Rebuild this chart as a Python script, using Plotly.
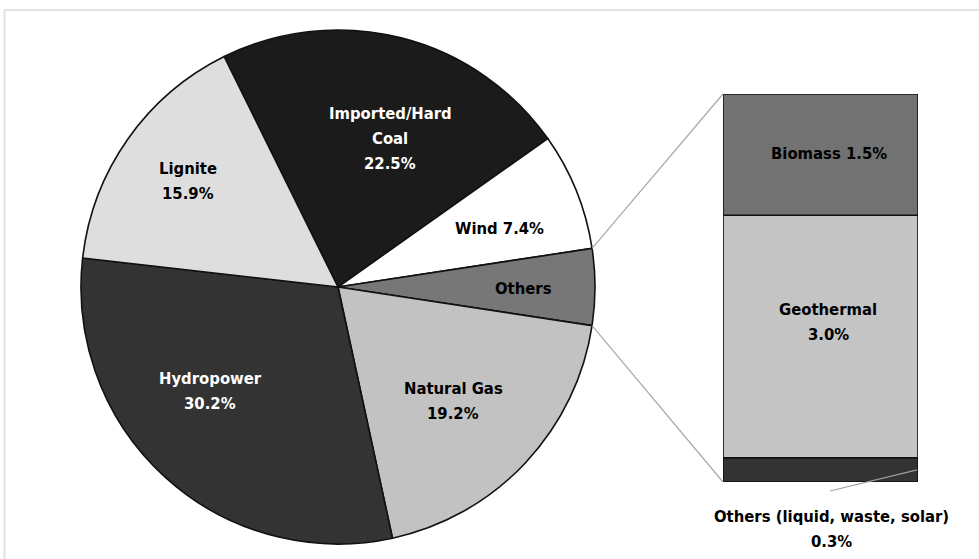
import math
import plotly.graph_objects as go

# ---- data ----
pie_labels = ["Imported/Hard Coal", "Wind", "Others", "Natural Gas", "Hydropower", "Lignite"]
pie_values = [22.5, 7.4, 4.8, 19.2, 30.2, 15.9]
pie_colors = ["#1b1b1b", "#ffffff", "#777777", "#c2c2c2", "#333333", "#dedede"]
pie_text = ["Imported/Hard<br>Coal<br>22.5%", "Wind 7.4%", "Others", "Natural Gas<br>19.2%",
            "Hydropower<br>30.2%", "Lignite<br>15.9%"]
pie_text_colors = ["white", "black", "black", "black", "white", "black"]

bar_labels = ["Others (liquid, waste, solar)", "Geothermal", "Biomass"]
bar_values = [0.3, 3.0, 1.5]
bar_colors = ["#333333", "#c4c4c4", "#727272"]
bar_text = ["Others (liquid, waste, solar)<br>0.3%", "Geothermal<br>3.0%", "Biomass 1.5%"]

# ---- layout geometry (pixels) ----
W, H = 979, 559
CX, CY, R = 338, 287, 257
BX0, BX1 = 723, 918
BY_TOP, BY_BOT = 94, 482
LINE_GAP = 25
FONT = "Liberation Sans Narrow, DejaVu Sans Condensed, Roboto, sans-serif"


def px(x):
    return x / W


def py(y):
    return 1 - y / H


total = sum(pie_values)
others_idx = pie_labels.index("Others")
before = sum(pie_values[:others_idx])
# Others slice centred at 3 o'clock (90 deg clockwise from top)
rotation = 90 - (before + pie_values[others_idx] / 2) / total * 360

fig = go.Figure()
fig.add_trace(go.Pie(
    labels=pie_labels, values=pie_values, sort=False, direction="clockwise",
    rotation=rotation, textinfo="none", hoverinfo="label+percent",
    marker=dict(colors=pie_colors, line=dict(color="#111111", width=1.6)),
    domain=dict(x=[px(CX - R), px(CX + R)], y=[py(CY + R), py(CY - R)]),
    showlegend=False,
))

base = 0
for lab, val, col in zip(bar_labels, bar_values, bar_colors):
    fig.add_trace(go.Bar(
        x=[0], y=[val], base=[base], width=1, name=lab,
        marker=dict(color=col, line=dict(color="#111111", width=1.6)),
        xaxis="x", yaxis="y", showlegend=False,
    ))
    base += val

bar_total = sum(bar_values)

# connector lines from pie "Others" slice edges to the bar
a_start = math.radians(rotation + before / total * 360)
a_end = math.radians(rotation + (before + pie_values[others_idx]) / total * 360)
p1 = (CX + R * math.sin(a_start), CY - R * math.cos(a_start))
p2 = (CX + R * math.sin(a_end), CY - R * math.cos(a_end))
shapes = [
    dict(type="line", xref="paper", yref="paper", x0=px(p1[0]), y0=py(p1[1]),
         x1=px(BX0), y1=py(BY_TOP), line=dict(color="#a8a8a8", width=1.2)),
    dict(type="line", xref="paper", yref="paper", x0=px(p2[0]), y0=py(p2[1]),
         x1=px(BX0), y1=py(BY_BOT), line=dict(color="#a8a8a8", width=1.2)),
    # leader to small "Others" segment
    dict(type="line", xref="paper", yref="paper", x0=px(830), y0=py(491),
         x1=px(BX1 - 1), y1=py(BY_BOT - bar_values[0] / 2 / bar_total * (BY_BOT - BY_TOP)),
         line=dict(color="#a0a0a0", width=1.2)),
    # frame
    dict(type="line", xref="paper", yref="paper", x0=px(4), y0=py(10), x1=1.02, y1=py(10),
         line=dict(color="#e2e2e2", width=2)),
    dict(type="line", xref="paper", yref="paper", x0=px(4.5), y0=py(10), x1=px(4.5), y1=-0.02,
         line=dict(color="#e2e2e2", width=2)),
]

# label positions (pixel centres of the whole text block)
pie_pos = [(390, 138), (500, 228), (523, 288), (453, 401), (210, 391), (188, 181)]
bar_pos = [(831, 529), (828, 322), (829, 153)]

annotations = []


def add_label(text, color, x, y):
    lines = text.split("<br>")
    n = len(lines)
    for i, ln in enumerate(lines):
        yy = y + (i - (n - 1) / 2) * LINE_GAP
        annotations.append(dict(x=px(x), y=py(yy), xref="paper", yref="paper",
                                text="<b>" + ln + "</b>", showarrow=False,
                                font=dict(family=FONT, size=16.5, color=color),
                                xanchor="center", yanchor="middle"))


for t, c, (x, y) in zip(pie_text, pie_text_colors, pie_pos):
    add_label(t, c, x, y)
for t, (x, y) in zip(bar_text, bar_pos):
    add_label(t, "black", x, y)

fig.update_layout(
    width=W, height=H, margin=dict(l=0, r=0, t=0, b=0),
    paper_bgcolor="white", plot_bgcolor="white",
    barmode="overlay",
    xaxis=dict(domain=[px(BX0), px(BX1)], range=[-0.5, 0.5], visible=False, fixedrange=True),
    yaxis=dict(domain=[py(BY_BOT), py(BY_TOP)], range=[0, bar_total], visible=False, fixedrange=True),
    shapes=shapes, annotations=annotations,
    font=dict(family=FONT),
)

fig.write_html("out.html")
